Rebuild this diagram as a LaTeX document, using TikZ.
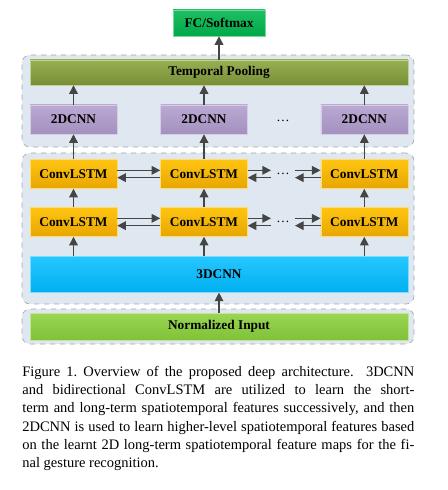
\documentclass[tikz,border=0pt]{standalone}
\usepackage{fontspec}
\setmainfont{Liberation Serif}
\usetikzlibrary{arrows.meta}
\definecolor{fcT}{HTML}{1DC060}\definecolor{fcB}{HTML}{00A84A}
\definecolor{tpT}{HTML}{97B052}\definecolor{tpB}{HTML}{788E38}
\definecolor{cnT}{HTML}{BAAAD2}\definecolor{cnB}{HTML}{A390BF}
\definecolor{lsT}{HTML}{FFC512}\definecolor{lsB}{HTML}{E8A600}
\definecolor{c3T}{HTML}{26C6FF}\definecolor{c3B}{HTML}{00B0F0}
\definecolor{niT}{HTML}{9AD653}\definecolor{niB}{HTML}{7FC238}
\definecolor{panel}{HTML}{DFE8F1}\definecolor{panelline}{HTML}{A6A6A6}
\definecolor{arrowc}{HTML}{454545}
\tikzset{
  panelbox/.style={draw=panelline, dashed, fill=panel, rounded corners=4.8pt, line width=0.4pt, minimum width=235.2pt, inner sep=0pt},
  blk/.style={inner sep=0pt, font=\bfseries\fontsize{8}{9}\selectfont, text=black, line width=0.3pt},
  fcbox/.style={blk, top color=fcT, bottom color=fcB, draw=fcT!60!white, minimum width=55.2pt, minimum height=15.6pt},
  tpbox/.style={blk, top color=tpT, bottom color=tpB, draw=tpT!60!white, minimum width=226.8pt, minimum height=15pt},
  cnnbox/.style={blk, top color=cnT, bottom color=cnB, draw=cnT!60!white, minimum width=52.2pt, minimum height=17.4pt},
  lstmbox/.style={blk, top color=lsT, bottom color=lsB, draw=lsT!60!white, minimum width=52.2pt, minimum height=17.4pt},
  c3box/.style={blk, top color=c3T, bottom color=c3B, draw=c3T!60!white, minimum width=226.8pt, minimum height=21.4pt},
  nibox/.style={blk, top color=niT, bottom color=niB, draw=niT!60!white, minimum width=226.8pt, minimum height=16.2pt},
  arr/.style={draw=arrowc, line width=0.8pt, -{Triangle[length=5.2pt,width=5.2pt]}},
  dotsnode/.style={inner sep=0pt, font=\fontsize{8}{9}\selectfont}
}
\begin{document}
\begin{tikzpicture}[x=0.6pt, y=-0.6pt]
\useasboundingbox (0,0) rectangle (447,490);
% panels
\node[panelbox, minimum height=55.2pt] (p1) at (218,101) {};
\node[panelbox, minimum height=90.6pt] (p2) at (218,228.5) {};
\node[panelbox, minimum height=21pt] (p3) at (218,326.5) {};
% boxes
\node[fcbox] (fc) at (219,23) {FC/Softmax};
\node[tpbox] (tp) at (219,72.5) {Temporal Pooling};
\node[cnnbox] (d1) at (73.5,119.5) {2DCNN};
\node[cnnbox] (d2) at (204,119.5) {2DCNN};
\node[cnnbox] (d3) at (364.3,119.5) {2DCNN};
\node[dotsnode] (dd) at (283,121) {…};
\node[lstmbox] (a1) at (73.5,174) {ConvLSTM};
\node[lstmbox] (a2) at (204,174) {ConvLSTM};
\node[lstmbox] (a3) at (364.3,174) {ConvLSTM};
\node[lstmbox] (b1) at (73.5,222) {ConvLSTM};
\node[lstmbox] (b2) at (204,222) {ConvLSTM};
\node[lstmbox] (b3) at (364.3,222) {ConvLSTM};
\node[dotsnode] (da) at (283,174) {…};
\node[dotsnode] (db) at (283,222) {…};
\node[c3box] (c3) at (219,274.5) {3DCNN};
\node[nibox] (ni) at (219,326.5) {Normalized Input};
% dot anchor coordinates
\coordinate (daL) at (271,174); \coordinate (daR) at (295,174);
\coordinate (dbL) at (271,222); \coordinate (dbR) at (295,222);
% vertical arrows
\draw[arr] (tp.north -| fc.south) -- (fc.south);
\foreach \i in {1,2,3}{
  \draw[arr] (d\i.north) -- (d\i.north |- tp.south);
  \draw[arr] (a\i.north) -- (d\i.south);
  \draw[arr] (b\i.north) -- (a\i.south);
  \draw[arr] (b\i.south |- c3.north) -- (b\i.south);
}
\draw[arr] (ni.north) -- (c3.south);
% horizontal arrows
\foreach \r in {a,b}{
  \draw[arr] ([yshift=2.2pt]\r1.east) -- ([yshift=2.2pt]\r2.west);
  \draw[arr] ([yshift=-2.2pt]\r2.west) -- ([yshift=-2.2pt]\r1.east);
  \draw[arr] ([yshift=2.2pt]\r2.east) -- ([yshift=2.2pt]d\r L);
  \draw[arr] ([yshift=-2.2pt]d\r L) -- ([yshift=-2.2pt]\r2.east);
  \draw[arr] ([yshift=2.2pt]d\r R) -- ([yshift=2.2pt]\r3.west);
  \draw[arr] ([yshift=-2.2pt]\r3.west) -- ([yshift=-2.2pt]d\r R);
}
% caption
\node[anchor=north west, inner sep=0pt, text width=235.2pt, align=justify,
      font=\fontsize{8.7}{10.9}\selectfont] (cap) at (22,366)
{\frenchspacing\hyphenpenalty=10000 Figure 1. Overview of the proposed deep architecture.\ \ 3DCNN\linebreak
and bidirectional ConvLSTM are utilized to learn the short-\linebreak
term and long-term spatiotemporal features successively, and then\linebreak
2DCNN is used to learn higher-level spatiotemporal features based\linebreak
on the learnt 2D long-term spatiotemporal feature maps for the fi-\linebreak
nal gesture recognition.};
\end{tikzpicture}
\end{document}
